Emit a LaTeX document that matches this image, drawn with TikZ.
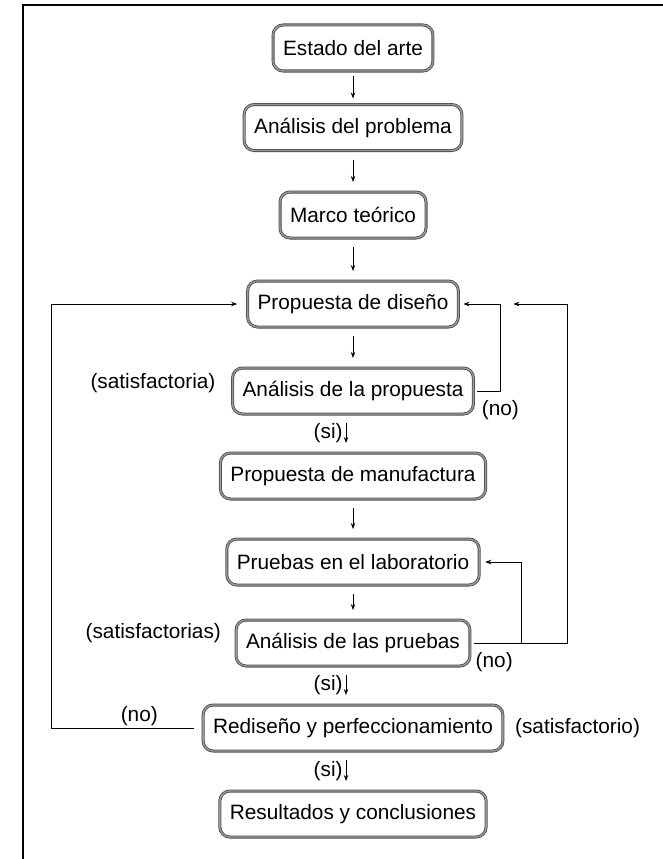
\documentclass[tikz,border=0pt]{standalone}
\usepackage{fontspec}
\setmainfont{Liberation Sans}
\usetikzlibrary{positioning}
\usetikzlibrary{arrows.meta}
\tikzset{>=Stealth}

\begin{document}
\begin{tikzpicture}[x=1pt, y=-1pt, node distance=40pt,
	box/.style={draw=black!70, double=black!40, double distance=1.4pt, line width=0.8pt,
		rounded corners=10pt, minimum height=46pt, inner xsep=10pt, outer sep=0pt,
		font=\fontsize{20.8}{25}\selectfont},
	lbl/.style={inner sep=0pt, font=\fontsize{20.8}{25}\selectfont},
	flow/.style={-{Stealth[length=6pt,width=4.5pt]}, line width=0.9pt, shorten <=9pt, shorten >=10pt},
	back/.style={-{Stealth[length=6pt,width=4.5pt]}, line width=0.9pt}]
	\useasboundingbox (0,0) rectangle (662,859);
	%% frame
	\draw[line width=2.5pt] (23,870) |- (670,5);
	%% main chain
	\node [box] (AE) at (353,48) {Estado del arte};
	\node [box, below=33.5pt of AE] (AProb) {Análisis del problema};
	\node [box, below=41.5pt of AProb] (MT) {Marco teórico};
	\node [box, below=43pt of MT] (PD) {Propuesta de diseño};
	\node [box, below=41pt of PD] (AP) {Análisis de la propuesta};
	\node [box, below=39pt of AP] (PM) {Propuesta de manufactura};
	\node [box, below=of PM] (PL) {Pruebas en el laboratorio};
	\node [box, below=35pt of PL] (APR) {Análisis de las pruebas};
	\node [box, below=39pt of APR] (RP) {Rediseño y perfeccionamiento};
	\node [box, below=of RP] (RC) {Resultados y conclusiones};
	%% side labels
	\node [lbl, anchor=east] (satA) at ([xshift=-17pt, yshift=8pt]AP.west) {(satisfactoria)};
	\node [lbl, anchor=east] (satB) at ([xshift=-15pt, yshift=10pt]APR.west) {(satisfactorias)};
	\node [lbl, anchor=west] (satC) at ([xshift=12pt]RP.east) {(satisfactorio)};
	%% forward flow
	\draw [flow, shorten <=5pt, shorten >=6pt] (AE) -- (AProb);
	\draw [flow] (AProb) -- (MT);
	\draw [flow] (MT) -- (PD);
	\draw [flow] (PD) -- (AP);
	\draw [flow] ([xshift=-7pt]AP.south) -- node [lbl, left=3pt] {(si)} ([xshift=-7pt]PM.north);
	\draw [flow] (PM) -- (PL);
	\draw [flow] (PL) -- (APR);
	\draw [flow] ([xshift=-7pt]APR.south) -- node [lbl, left=3pt] {(si)} ([xshift=-7pt]RP.north);
	\draw [flow] ([xshift=-7pt]RP.south) -- node [lbl, left=3pt] {(si)} ([xshift=-7pt]RC.north);
	%% loops back
	\draw [back, shorten <=4pt, shorten >=5pt] (AP.east) -- node [lbl, below=9pt, pos=1] {(no)} ++(27,0) |- (PD.east);
	\draw [back, shorten <=4pt] (APR.east) -- node [lbl, below=9pt, pos=0.25] {(no)} ++(97,0) |- ([xshift=55pt]PD.east);
	\draw [back, shorten >=6pt] ([xshift=51pt]APR.east) |- (PL.east);
	\draw [back, shorten <=9pt, shorten >=10.5pt] (RP.west) -- node [lbl, above=1.5pt, pos=0.42] {(no)} ++(-152,0) |- (PD.west);
\end{tikzpicture}
\end{document}
